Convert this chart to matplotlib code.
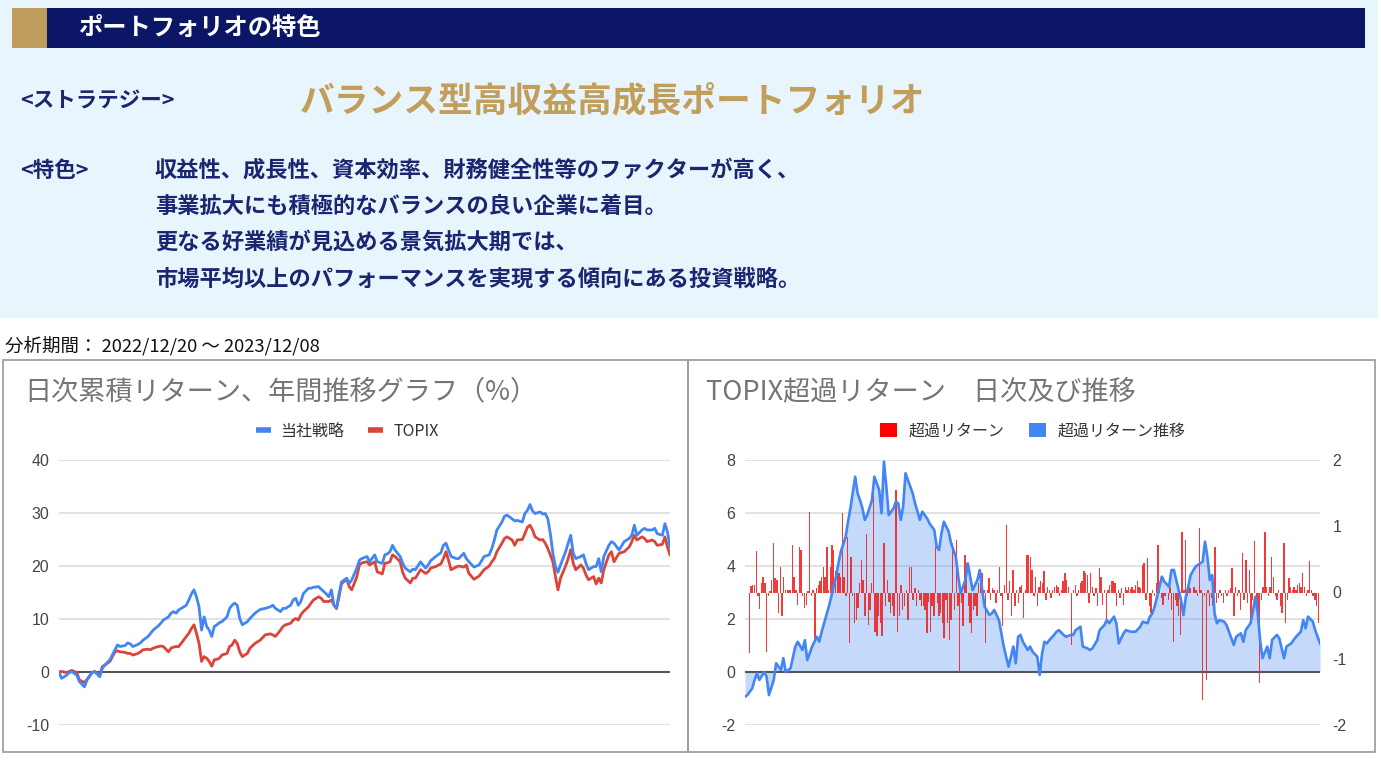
import matplotlib
matplotlib.use('Agg')
import matplotlib.pyplot as plt
from matplotlib.patches import Rectangle, Patch
from matplotlib.lines import Line2D
import numpy as np

plt.rcParams['axes.unicode_minus'] = False

W, H = 1381, 760
JP = ['Noto Sans CJK JP', 'DejaVu Sans']
NUM = ['Liberation Sans', 'DejaVu Sans']

# ---------------- data ----------------
period_text = '分析期間： 2022/12/20 ～ 2023/12/08'
left_title = '日次累積リターン、年間推移グラフ（%）'
right_title = 'TOPIX超過リターン　日次及び推移'
left_series = ['当社戦略', 'TOPIX']
right_series = ['超過リターン', '超過リターン推移']
left_yticks = [-10, 0, 10, 20, 30, 40]
right_yticks_left = [-2, 0, 2, 4, 6, 8]
right_yticks_right = [-2, -1, 0, 1, 2]

# trading-day index of each sample (0 = 2022/12/20, 240 = 2023/12/08)
cum_day = [0, 1, 3, 4, 5, 7, 8, 10, 11, 13, 14, 16, 17, 18, 20, 22, 23, 24, 26, 27,
           28, 29, 31, 32, 33, 35, 36, 37, 39, 40, 41, 43, 44, 45, 46, 47, 48, 50, 51, 52,
           53, 54, 55, 56, 57, 58, 59, 60, 61, 62, 63, 64, 66, 67, 68, 69, 70, 71, 72, 74,
           75, 77, 79, 81, 83, 84, 85, 87, 88, 89, 91, 92, 93, 94, 95, 96, 98, 99, 100, 102,
           103, 104, 106, 107, 108, 109, 110, 111, 113, 114, 115, 117, 118, 119, 121, 122, 124, 125, 127, 128,
           129, 130, 131, 132, 134, 135, 136, 138, 139, 140, 142, 144, 145, 146, 148, 150, 151, 152, 153, 154,
           156, 157, 159, 160, 161, 163, 165, 167, 169, 170, 171, 172, 174, 175, 176, 178, 179, 180, 182, 183,
           184, 185, 186, 187, 189, 190, 191, 192, 193, 194, 195, 196, 197, 199, 200, 201, 202, 203, 205, 206,
           207, 208, 210, 211, 212, 213, 214, 216, 217, 218, 220, 222, 224, 225, 226, 227, 229, 230, 231, 233,
           234, 235, 237, 238, 239, 240]
strategy = [0.0, -1.2, -0.6, -0.1, 0.1, -0.6, -1.8, -2.8, -1.5, -0.1, 0.1, -0.9, 0.7, 1.3, 2.3, 4.2, 5.1, 4.8, 5.0, 5.5,
            5.3, 4.8, 5.2, 5.5, 6.0, 6.7, 7.3, 7.9, 8.7, 9.2, 9.8, 10.4, 11.1, 11.4, 11.1, 11.7, 12.0, 12.6, 13.6, 14.7,
            15.5, 14.2, 12.3, 7.9, 10.4, 8.6, 7.9, 6.7, 8.6, 8.9, 9.3, 9.5, 10.4, 12.0, 12.6, 13.0, 12.6, 10.1, 8.9, 9.5,
            10.1, 11.1, 11.8, 12.0, 12.3, 12.6, 12.0, 11.4, 12.0, 12.0, 12.6, 13.6, 13.9, 12.6, 13.3, 14.8, 15.8, 15.8, 16.0, 16.1,
            15.6, 15.2, 14.2, 15.5, 12.6, 12.0, 14.8, 17.0, 17.7, 16.7, 17.4, 19.6, 21.1, 21.4, 21.8, 20.8, 22.1, 20.8, 20.5, 22.1,
            22.3, 22.7, 23.9, 23.0, 21.8, 20.5, 19.6, 18.9, 19.4, 19.3, 20.8, 19.6, 20.2, 21.0, 21.8, 22.5, 23.9, 24.3, 23.0, 21.8,
            21.4, 21.4, 22.4, 21.4, 20.8, 19.8, 20.2, 21.8, 22.1, 23.3, 24.9, 26.8, 28.3, 29.4, 29.6, 28.9, 28.5, 28.6, 28.3, 29.9,
            30.5, 31.6, 30.4, 29.9, 30.2, 29.8, 29.9, 28.9, 26.1, 22.4, 19.9, 18.8, 20.2, 22.7, 24.3, 25.8, 22.4, 21.4, 21.8, 22.1,
            20.5, 19.3, 19.9, 19.9, 21.4, 18.9, 21.8, 23.9, 24.6, 24.3, 23.0, 24.6, 25.2, 25.8, 27.7, 25.8, 26.8, 27.1, 26.8, 26.8,
            27.1, 26.1, 25.8, 28.0, 26.4, 23.6]
topix = [0.0, 0.1, -0.1, 0.1, 0.3, -0.1, -1.5, -2.0, -1.4, -0.1, 0.1, -0.6, 1.0, 1.3, 2.0, 3.8, 4.0, 3.8, 3.7, 3.5,
         3.5, 3.2, 3.5, 3.8, 4.2, 4.3, 4.2, 4.5, 4.8, 4.9, 4.8, 3.8, 4.5, 4.7, 4.8, 4.8, 5.4, 6.7, 7.3, 8.2,
         8.9, 7.3, 5.4, 2.0, 2.9, 2.6, 2.0, 1.1, 2.3, 2.4, 2.6, 3.2, 3.5, 4.8, 5.1, 6.0, 5.4, 3.8, 2.9, 3.5,
         4.5, 5.4, 6.0, 7.0, 7.2, 7.0, 6.7, 7.9, 8.6, 8.9, 9.2, 9.8, 10.1, 9.8, 10.8, 11.4, 12.3, 13.0, 13.6, 14.2,
         13.9, 13.3, 13.3, 13.6, 12.6, 12.0, 14.2, 16.7, 17.5, 16.1, 15.5, 18.0, 20.2, 20.6, 20.8, 20.2, 20.8, 18.9, 18.5, 20.5,
         20.6, 20.8, 22.1, 21.8, 20.8, 18.8, 17.7, 16.8, 17.7, 17.7, 19.3, 18.6, 18.9, 19.6, 19.9, 20.4, 21.4, 22.7, 21.1, 19.3,
         19.8, 20.0, 19.8, 20.2, 18.6, 17.5, 18.1, 19.3, 20.0, 20.8, 21.4, 22.7, 24.3, 25.2, 25.5, 24.9, 23.9, 24.9, 25.0, 26.1,
         27.3, 27.7, 26.8, 25.5, 24.9, 25.0, 24.3, 23.3, 22.1, 20.8, 18.0, 15.5, 17.7, 20.0, 21.4, 23.1, 20.5, 19.3, 20.2, 19.6,
         18.3, 17.4, 18.0, 16.6, 17.7, 16.8, 19.3, 22.1, 22.7, 20.8, 22.4, 22.7, 23.6, 24.6, 25.8, 24.9, 25.5, 25.2, 24.6, 24.9,
         24.6, 23.9, 24.1, 25.5, 23.6, 22.1]

excess_day = [0, 1, 3, 4, 5, 6, 8, 9, 10, 12, 13, 15, 16, 17, 19, 21, 22, 24, 25, 26,
              28, 30, 31, 32, 33, 35, 36, 38, 39, 40, 42, 43, 44, 46, 47, 48, 49, 50, 51, 53,
              54, 56, 57, 58, 59, 60, 62, 63, 64, 65, 66, 67, 69, 70, 71, 73, 74, 76, 77, 79,
              80, 81, 82, 83, 85, 86, 88, 89, 90, 92, 93, 94, 95, 97, 98, 99, 100, 102, 103, 104,
              106, 107, 108, 110, 111, 112, 113, 114, 115, 116, 118, 119, 120, 122, 123, 124, 125, 126, 127, 129,
              130, 131, 133, 134, 136, 137, 138, 140, 141, 143, 144, 145, 147, 148, 150, 151, 152, 154, 155, 156,
              158, 159, 161, 163, 165, 166, 168, 169, 170, 171, 172, 174, 175, 177, 178, 179, 181, 182, 183, 184,
              185, 186, 188, 189, 191, 192, 193, 194, 195, 196, 197, 198, 200, 201, 202, 204, 205, 207, 208, 209,
              211, 212, 213, 214, 215, 216, 218, 219, 220, 222, 223, 225, 226, 228, 229, 230, 232, 233, 234, 235,
              237, 238, 240]
excess_cum = [-0.93, -0.87, -0.62, -0.30, -0.05, -0.30, 0.00, -0.18, -0.87, -0.30, 0.33, 0.08, 0.52, 0.00, 0.14, 0.96, 1.14, 0.83, 1.20, 0.45,
              0.96, 1.33, 1.14, 1.52, 1.84, 2.47, 2.84, 3.60, 4.10, 4.54, 5.10, 5.67, 6.18, 7.37, 6.74, 6.49, 6.18, 5.74, 5.92, 6.49,
              7.37, 6.87, 5.99, 7.94, 6.99, 5.92, 6.18, 6.43, 6.36, 5.74, 6.24, 7.50, 6.99, 6.74, 6.36, 5.74, 6.05, 5.80, 5.61, 5.36,
              4.73, 4.60, 5.23, 5.67, 5.30, 4.86, 4.35, 3.60, 2.97, 3.47, 4.10, 3.60, 3.09, 3.47, 3.85, 3.09, 2.47, 2.15, 2.21, 2.34,
              1.96, 1.46, 0.96, 0.20, 0.58, 0.96, 0.33, 1.33, 1.40, 1.14, 0.83, 0.96, 0.77, 0.58, -0.11, 0.70, 1.14, 1.08, 1.20, 1.40,
              1.52, 1.58, 1.40, 1.33, 1.40, 1.40, 1.58, 1.71, 0.96, 0.89, 0.83, 0.89, 1.20, 1.58, 1.77, 1.96, 1.84, 2.09, 1.84, 1.08,
              1.46, 1.58, 1.52, 1.52, 1.71, 1.90, 1.84, 2.09, 2.21, 2.47, 2.84, 3.60, 3.41, 3.22, 3.85, 3.85, 3.09, 2.72, 2.15, 2.84,
              3.22, 3.66, 3.97, 4.04, 4.16, 4.92, 4.35, 3.47, 3.66, 2.21, 1.84, 1.96, 1.90, 1.77, 1.52, 1.02, 1.33, 1.46, 1.14, 1.58,
              1.84, 2.28, 2.84, 2.21, 1.20, 0.52, 0.96, 0.52, 1.21, 1.40, 1.27, 0.52, 0.96, 1.08, 1.21, 1.33, 1.52, 1.96, 1.65, 2.09,
              1.90, 1.58, 1.08]

excess_daily = [
    -0.92, 0.10, 0.12, 0.12, 0.62, -0.06, -0.25, 0.14, 0.24, 0.14, -0.90, -0.06, 0.02, 0.19, 0.75, 0.22, 0.19, -0.31, 0.39, -0.36,
    0.24, 0.04, 0.04, 0.04, 0.04, 0.72, 0.24, 0.04, -0.19, 0.69, 0.64, -0.06, -0.24, -0.19, 0.03, 1.21, -0.06, 0.04, -0.74, 0.07,
    0.12, 0.17, 0.24, 0.39, 0.24, 0.69, 0.04, 0.39, 0.72, 0.64, 0.32, 0.29, 0.29, 0.24, 1.20, 0.24, -0.06, 0.84, -0.76, 0.54,
    -0.06, -0.46, -0.41, -0.24, 0.14, 0.49, 0.19, -0.36, 0.89, -0.49, -0.26, 0.14, 1.65, -0.59, -0.66, -0.36, -0.46, -0.66, 0.74, -0.21,
    0.19, -0.14, -0.31, -0.21, -0.36, 1.55, -0.59, -0.36, 0.12, -0.26, -0.21, 0.04, -0.41, 0.39, 0.39, -0.11, 0.07, -0.21, 0.04, -0.11,
    -0.21, -0.21, -0.26, -0.61,
    -0.14, -0.59, -0.21, -0.36, 0.69, -0.16, -0.36, -0.31, -0.46, -0.69, -0.11, -0.46, -0.71, -0.41, 0.74, -0.26, 0.79, -0.21, -1.22, -0.16,
    -0.51, 0.57, 0.44, -0.21, -0.46, -0.61, -0.26, -0.21, -0.36, 0.14, 0.17, 0.29, 0.04, -0.76, 0.04, 0.22, -0.11, 0.07, 0.04, -0.16,
    0.04, 0.39, -0.06, -0.51, 0.12, 1.02, -0.11, 0.17, -0.36, 0.34, -0.21, 0.04, -0.16, 0.09, 0.12, -0.39, 0.04, 0.57, 0.57, 0.54,
    0.34, -0.06, 0.24, -0.21, 0.09, 0.17, 0.14, 0.32, -0.11, 0.09, 0.04, -0.09, 0.04, 0.09, 0.12, 0.09, -0.06, 0.04, 0.17, 0.29,
    0.19, 0.09, -0.01, -0.79, 0.04, 0.12, -0.06, 0.04, 0.14, 0.17, 0.32, 0.29, 0.27, -0.16, 0.29, 0.09, -0.06, 0.07, -0.21, 0.37,
    0.24, -0.19, 0.04, -0.46, 0.04, 0.12, 0.17, 0.17, 0.14, -0.21, 0.04, -0.09, 0.07,
    -0.19, 0.09, 0.04, 0.09, 0.05, 0.09, 0.04, 0.12, 0.17, 0.09, 0.07, 0.42, 0.44, -0.11, 0.52, -0.21, -0.31, 0.04, -0.06, 0.14,
    0.72, 0.04, -0.09, -0.19, -0.06, -0.01, -0.11, 0.09, -0.26, -0.74, -0.11, -0.21, -0.36, -0.64, 0.92, 0.04, 0.79, -0.06, 0.09, 0.07,
    -0.01, 0.09, 0.04, -0.06, 0.97, 0.04, -1.62, -0.06, -1.32, 0.04, -0.21, -0.09, -0.21, 0.69, -0.16, -0.09, 0.04, -0.06, -0.16, 0.04,
    -0.06, 0.04, 0.07, 0.37, -0.36, 0.09, -0.06, 0.04, -0.26, 0.59, -0.11, 0.49, -0.16, 0.34, -0.44, -0.11, 0.77, -0.21, -0.36, -1.37,
    -0.11, 0.09, 0.92, 0.09, -0.06, 0.09, 0.54, 0.24, -0.06, -0.11, 0.04, -0.21, -0.31, 0.74, -0.46, -0.11, 0.22, 0.09, 0.04, 0.09,
    0.04, 0.12, 0.14, 0.09, 0.29, 0.09, -0.06, 0.04, 0.47, 0.04, -0.06, -0.11, -0.21, -0.46]

# ---------------- styles ----------------
NAVY = '#0B1667'
GOLD = '#BE9C5C'
TEXT_NAVY = '#1B2670'
BLUE = '#4285F4'
RED = '#DB4437'
BAR_RED = '#F02424'
GRID = '#DDDDDD'
TICK = '#444444'
TITLE_GRAY = '#757575'

fig = plt.figure(figsize=(W / 100, H / 100), dpi=100)
fig.patch.set_facecolor('white')


def fx(x):
    return x / W


def fy(y):
    return 1 - y / H


def rect(x0, y0, x1, y1, **kw):
    fig.patches.append(Rectangle((fx(x0), fy(y1)), fx(x1) - fx(x0), fy(y0) - fy(y1),
                                 transform=fig.transFigure, **kw))


# ---------------- header block ----------------
rect(0, 0, 1378, 318, facecolor='#E9F5FD', edgecolor='none')
rect(12, 8, 1365, 48, facecolor=NAVY, edgecolor='none')
rect(12, 8, 47, 48, facecolor=GOLD, edgecolor='none')
fig.text(fx(78), fy(28), 'ポートフォリオの特色', color='white', fontsize=17.5,
         fontweight='bold', va='center', ha='left', family=JP)
fig.text(fx(20), fy(101), '<ストラテジー>', color=TEXT_NAVY, fontsize=15.5,
         fontweight='bold', va='center', ha='left', family=JP)
fig.text(fx(300), fy(101), 'バランス型高収益高成長ポートフォリオ', color='#C29E5C', fontsize=25,
         fontweight='bold', va='center', ha='left', family=JP)
fig.text(fx(20), fy(170), '<特色>', color=TEXT_NAVY, fontsize=15.5,
         fontweight='bold', va='center', ha='left', family=JP)
body = ['収益性、成長性、資本効率、財務健全性等のファクターが高く、',
        '事業拡大にも積極的なバランスの良い企業に着目。',
        '更なる好業績が見込める景気拡大期では、',
        '市場平均以上のパフォーマンスを実現する傾向にある投資戦略。']
for i, line in enumerate(body):
    fig.text(fx(155), fy(170 + i * 36.3), line, color=TEXT_NAVY, fontsize=16,
             fontweight='bold', va='center', ha='left', family=JP)

fig.text(fx(5), fy(346), period_text, color='#111111', fontsize=13.3,
         va='center', ha='left', family=JP)

# chart frames
rect(3, 360, 688, 752, facecolor='none', edgecolor='#A0A0A0', linewidth=1.3)
rect(688, 360, 1375, 752, facecolor='none', edgecolor='#A0A0A0', linewidth=1.3)
fig.text(fx(24), fy(392), left_title, color=TITLE_GRAY, fontsize=19.5,
         va='center', ha='left', family=JP)
fig.text(fx(706), fy(392), right_title, color=TITLE_GRAY, fontsize=19.5,
         va='center', ha='left', family=JP)


def style_axis(ax):
    for s in ax.spines.values():
        s.set_visible(False)
    ax.tick_params(length=0, labelsize=11.5, labelcolor=TICK)
    for lab in ax.get_yticklabels():
        lab.set_family(NUM)
    ax.set_xticks([])


# ---------------- left chart ----------------
axl = fig.add_axes([fx(59), fy(725), fx(670) - fx(59), fy(460) - fy(725)])
axl.set_xlim(0, 240)
axl.set_ylim(-10, 40)
axl.set_yticks(left_yticks)
axl.grid(axis='y', color=GRID, lw=1.2)
axl.set_axisbelow(True)
axl.axhline(0, color='#555555', lw=1.5, zorder=1.5)
axl.plot(cum_day, strategy, color=BLUE, lw=2.0, zorder=3, solid_joinstyle='round')
axl.plot(cum_day, topix, color=RED, lw=2.0, zorder=2.5, solid_joinstyle='round')
style_axis(axl)
axl.tick_params(axis='y', pad=7)

hl = [Line2D([], [], color=BLUE, lw=4, solid_capstyle='butt'),
      Line2D([], [], color=RED, lw=4, solid_capstyle='butt')]
leg = axl.legend(hl, left_series, loc='center', bbox_to_anchor=(fx(347), fy(431)),
                 bbox_transform=fig.transFigure, ncol=2, frameon=False,
                 handlelength=0.95, handletextpad=0.6, columnspacing=1.5,
                 prop={'family': JP, 'size': 11.5})
for t in leg.get_texts():
    t.set_color('#333333')

# ---------------- right chart ----------------
# axr: left scale (cumulative excess, area) ; axb: right scale (daily excess bars)
axr = fig.add_axes([fx(745), fy(725), fx(1320) - fx(745), fy(460) - fy(725)])
axb = axr.twinx()
axr.set_xlim(0, 240)
axb.set_xlim(0, 240)
axr.set_ylim(-2, 8)
axb.set_ylim(-2, 2)
axr.set_yticks(right_yticks_left)
axb.set_yticks(right_yticks_right)
axr.grid(axis='y', color=GRID, lw=1.2)
axr.set_axisbelow(True)

axr.fill_between(excess_day, excess_cum, 0, color=BLUE, alpha=0.3, lw=0, zorder=1)
axr.axhline(0, color='#555555', lw=1.5, zorder=2)

bar_x = np.linspace(1.8, 239.3, len(excess_daily))
axb.bar(bar_x, excess_daily, width=0.58, color=BAR_RED, alpha=0.9, linewidth=0, zorder=2)
# cumulative line drawn on top of the bars, in the left-axis data coordinates
axb.plot(excess_day, excess_cum, color=BLUE, lw=1.9, solid_joinstyle='round',
         transform=axr.transData, zorder=3)
axb.set_ylim(-2, 2)
axb.set_xlim(0, 240)

style_axis(axr)
style_axis(axb)
axr.tick_params(axis='y', pad=7)
axb.tick_params(axis='y', pad=9)
for lab in axb.get_yticklabels():
    lab.set_family(NUM)

hr = [Patch(facecolor='#FF0000', edgecolor='none'), Patch(facecolor=BLUE, edgecolor='none')]
legr = axb.legend(hr, right_series, loc='center', bbox_to_anchor=(fx(1033), fy(431)),
                  bbox_transform=fig.transFigure, ncol=2, frameon=False,
                  handlelength=1.05, handleheight=1.05, handletextpad=0.75, columnspacing=1.5,
                  prop={'family': JP, 'size': 11.5})
for t in legr.get_texts():
    t.set_color('#333333')

fig.savefig('out.png', dpi=100, facecolor='white')
